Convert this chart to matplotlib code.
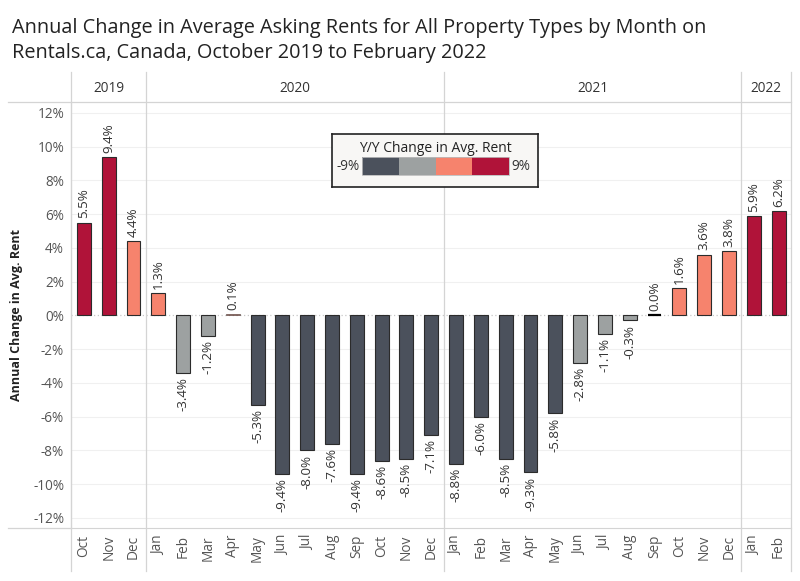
import matplotlib
matplotlib.use("Agg")
import matplotlib.pyplot as plt
from matplotlib.patches import Rectangle

plt.rcParams['font.family'] = ['Open Sans', 'DejaVu Sans']

years = ["2019", "2020", "2021", "2022"]
months_per_year = [3, 12, 12, 2]
months = (["Oct", "Nov", "Dec"]
          + ["Jan", "Feb", "Mar", "Apr", "May", "Jun", "Jul", "Aug", "Sep", "Oct", "Nov", "Dec"]
          + ["Jan", "Feb", "Mar", "Apr", "May", "Jun", "Jul", "Aug", "Sep", "Oct", "Nov", "Dec"]
          + ["Jan", "Feb"])
values = ([5.5, 9.4, 4.4]
          + [1.3, -3.4, -1.2, 0.1, -5.3, -9.4, -8.0, -7.6, -9.4, -8.6, -8.5, -7.1]
          + [-8.8, -6.0, -8.5, -9.3, -5.8, -2.8, -1.1, -0.3, 0.0, 1.6, 3.6, 3.8]
          + [5.9, 6.2])
y_ticks = [-12, -10, -8, -6, -4, -2, 0, 2, 4, 6, 8, 10, 12]

c_dark = "#4b515c"
c_gray = "#9da1a1"
c_salmon = "#f6836d"
c_red = "#b01339"

def color_for(v):
    if v < -4.5:
        return c_dark
    if v < 0:
        return c_gray
    if v < 4.5:
        return c_salmon
    return c_red

W, H = 800, 581
fig = plt.figure(figsize=(8, 5.81), dpi=100)

left_px, right_px, top_px, bot_px = 71, 791, 102, 528
ax = fig.add_axes([left_px / W, 1 - bot_px / H, (right_px - left_px) / W, (bot_px - top_px) / H])
n = len(values)
x = list(range(n))
ax.set_xlim(-0.52, n - 0.5)
ax.set_ylim(-12.6, 12.65)

for yt in y_ticks:
    if yt != 0:
        ax.axhline(yt, color="#f0f0f0", lw=0.8, zorder=0)
ax.axhline(0, color="#c8c8c8", lw=0.9, ls=(0, (1, 2)), zorder=1)

for xi, v in zip(x, values):
    col = color_for(v)
    if v == 0:
        ax.plot([xi - 0.28, xi + 0.28], [0, 0], color="black", lw=1.6, zorder=3, solid_capstyle="butt")
    else:
        ax.bar(xi, v, width=0.56, color=col, edgecolor="#2b2b2b", linewidth=0.8 if abs(v) > 0.2 else 0.4, zorder=2)
    lab = f"{v:.1f}%"
    if v >= 0:
        ax.text(xi, v + 0.25, lab, rotation=90, ha="center", va="bottom", fontsize=9.6, color="#333333")
    else:
        ax.text(xi, v - 0.25, lab, rotation=90, ha="center", va="top", fontsize=9.6, color="#333333")

ax.set_yticks(y_ticks)
ax.set_yticklabels([f"{t}%" for t in y_ticks], fontsize=9.8, color="#555555")
ax.tick_params(axis="y", length=0, pad=5)
ax.set_xticks(x)
ax.set_xticklabels(months, rotation=90, fontsize=9.8, color="#555555")
ax.tick_params(axis="x", length=0, pad=5)
for s in ["top", "right"]:
    ax.spines[s].set_visible(False)
ax.spines["left"].set_color("#d4d4d4")
ax.spines["bottom"].set_color("#d4d4d4")

ax.set_ylabel("Annual Change in Avg. Rent", fontsize=9, fontweight="bold", color="#222222", labelpad=7)

def xfig(xd):
    return (left_px + (xd - (-0.52)) / (n - 0.5 + 0.52) * (right_px - left_px)) / W

bounds = [-0.52]
acc = 0
for m in months_per_year:
    acc += m
    bounds.append(acc - 0.5)
bounds[-1] = n - 0.5

line_top = 1 - 72 / H
line_bot = 1 - 571 / H
for b in bounds:
    xf = xfig(b)
    fig.add_artist(plt.Line2D([xf, xf], [line_bot, line_top], color="#d4d4d4", lw=0.9, zorder=1))
fig.add_artist(plt.Line2D([8 / W, right_px / W], [1 - top_px / H, 1 - top_px / H], color="#d4d4d4", lw=0.9, zorder=1))
fig.add_artist(plt.Line2D([8 / W, left_px / W], [1 - bot_px / H, 1 - bot_px / H], color="#d4d4d4", lw=0.9, zorder=1))
for i, yr in enumerate(years):
    xc = (xfig(bounds[i]) + xfig(bounds[i + 1])) / 2
    fig.text(xc, 1 - 88 / H, yr, ha="center", va="center", fontsize=9.8, color="#333333")

fig.text(12 / W, 1 - 28 / H, "Annual Change in Average Asking Rents for All Property Types by Month on",
         fontsize=14.3, color="#222222", ha="left", va="center")
fig.text(12 / W, 1 - 53 / H, "Rentals.ca, Canada, October 2019 to February 2022",
         fontsize=14.3, color="#222222", ha="left", va="center")

lg = fig.add_axes([332 / W, 1 - 187 / H, (538 - 332) / W, (187 - 134) / H])
lg.set_zorder(10)
lg.set_xlim(0, 206)
lg.set_ylim(53, 0)
lg.set_facecolor("#f8f7f5")
for s in lg.spines.values():
    s.set_color("#222222")
    s.set_linewidth(1.2)
lg.set_xticks([])
lg.set_yticks([])
lg.text(103, 14, "Y/Y Change in Avg. Rent", ha="center", va="center", fontsize=10, color="#222222")
seg_cols = [c_dark, c_gray, c_salmon, c_red]
x0, x1 = 30, 177
segw = (x1 - x0) / 4
for i, c in enumerate(seg_cols):
    lg.add_patch(Rectangle((x0 + i * segw, 23), segw, 18, facecolor=c, edgecolor="none"))
lg.add_patch(Rectangle((x0, 23), x1 - x0, 18, facecolor="none", edgecolor="#bbbbbb", lw=0.6))
lg.text(x0 - 2, 32, "-9%", ha="right", va="center", fontsize=9.8, color="#333333")
lg.text(x1 + 2, 32, "9%", ha="left", va="center", fontsize=9.8, color="#333333")

fig.savefig("out.png", dpi=100)
